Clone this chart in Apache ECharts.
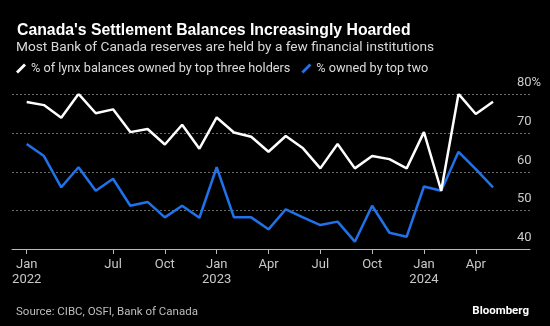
<!DOCTYPE html>
<html>
<head>
<meta charset="utf-8">
<script src="https://cdn.jsdelivr.net/npm/echarts@6/dist/echarts.min.js"></script>
<style>
html,body{margin:0;padding:0;background:#000;}
#c{width:550px;height:326px;}
</style>
</head>
<body>
<div id="c"></div>
<script>
// Monthly observations starting Jan 2022 (index positions on the x axis)
const pointIndex = [0,1,2,3,4,5,6,7,8,9,10,11,12,13,14,15,16,17,18,19,20,21,22,23,24,25,26,27];
const topThree = [78.1,77.3,74.0,80.2,75.2,76.2,70.3,71.1,67.1,72.2,66.0,74.1,70.2,69.1,65.2,69.3,66.1,60.9,67.2,60.9,64.1,63.3,60.9,70.3,55.1,80.2,75.0,78.2];
const topTwo   = [67.2,64.1,56.0,61.2,55.1,58.2,51.2,52.2,48.2,51.2,48.1,61.2,48.2,48.2,45.1,50.3,48.2,46.2,47.1,41.9,51.2,44.2,43.2,56.2,55.1,65.2,60.7,56.0];
const tickIndex = [0,5,8,11,14,17,20,23,26];
const tickLabels = ['Jan\n2022','Jul','Oct','Jan\n2023','Apr','Jul','Oct','Jan\n2024','Apr'];

const NARROW = 'Liberation Sans Narrow, Roboto, sans-serif';
const chart = echarts.init(document.getElementById('c'), null, {renderer:'canvas'});
const labelMap = {};
tickIndex.forEach((v,i)=>labelMap[v]=tickLabels[i]);

chart.setOption({
  backgroundColor:'#000',
  animation:false,
  title:[
    {text:"Canada's Settlement Balances Increasingly Hoarded",
     left:12, top:17.5,
     textStyle:{color:'#fff',fontSize:15.8,fontWeight:'bold',fontFamily:'Liberation Sans, Arial, sans-serif'}},
    {text:'Most Bank of Canada reserves are held by a few financial institutions',
     left:11, top:36,
     textStyle:{color:'#d8d8d8',fontSize:13.7,fontWeight:'normal',fontFamily:NARROW}},
    {text:'Source: CIBC, OSFI, Bank of Canada', left:11, top:301,
     textStyle:{color:'#bdbdbd',fontSize:11.5,fontWeight:'normal',fontFamily:NARROW}},
    {text:'Bloomberg', right:16, top:300,
     textStyle:{color:'#fff',fontSize:11.5,fontWeight:'bold',fontFamily:NARROW}}
  ],
  legend:{
    left:11, top:57, itemWidth:10, itemHeight:10, itemGap:11,
    textStyle:{color:'#dcdcdc',fontSize:12.7,fontFamily:NARROW},
    data:[
      {name:'% of lynx balances owned by top three holders', icon:'path://M8,0 L10,2 L2,10 L0,8 Z', itemStyle:{color:'#fff'}},
      {name:'% owned by top two', icon:'path://M8,0 L10,2 L2,10 L0,8 Z', itemStyle:{color:'#1f72ea'}}
    ]
  },
  grid:{left:12, right:20, top:94.7, bottom:77, containLabel:false, outerBoundsMode:'none'},
  xAxis:{
    type:'value', min:-0.85, max:29.14,
    axisLine:{show:true,lineStyle:{color:'#bbb',width:1}},
    splitLine:{show:false},
    axisTick:{show:true,length:5,lineStyle:{color:'#bbb'},customValues:tickIndex},
    axisLabel:{color:'#c8c8c8',fontSize:13,fontFamily:NARROW,lineHeight:15,margin:8,
      customValues:tickIndex, formatter:v=>labelMap[v]||''}
  },
  yAxis:{
    type:'value', position:'right', min:40, max:80, interval:10,
    axisLine:{show:false}, axisTick:{show:false},
    splitLine:{show:true,lineStyle:{color:'#6a6a6a',type:[2,2],width:1}},
    axisLabel:{inside:false, margin:-13, align:'left', verticalAlign:'bottom', padding:[0,0,5,0],
      color:'#c8c8c8',fontSize:13,fontFamily:NARROW, formatter:v=>v===80?'80%':String(v)}
  },
  series:[
    {name:'% of lynx balances owned by top three holders', type:'line', symbol:'none',
     data:pointIndex.map((x,i)=>[x,topThree[i]]), lineStyle:{color:'#fff',width:2.5}, itemStyle:{color:'#fff'}, z:3},
    {name:'% owned by top two', type:'line', symbol:'none',
     data:pointIndex.map((x,i)=>[x,topTwo[i]]), lineStyle:{color:'#1f72ea',width:2.5}, itemStyle:{color:'#1f72ea'}, z:2}
  ]
});
</script>
</body>
</html>
